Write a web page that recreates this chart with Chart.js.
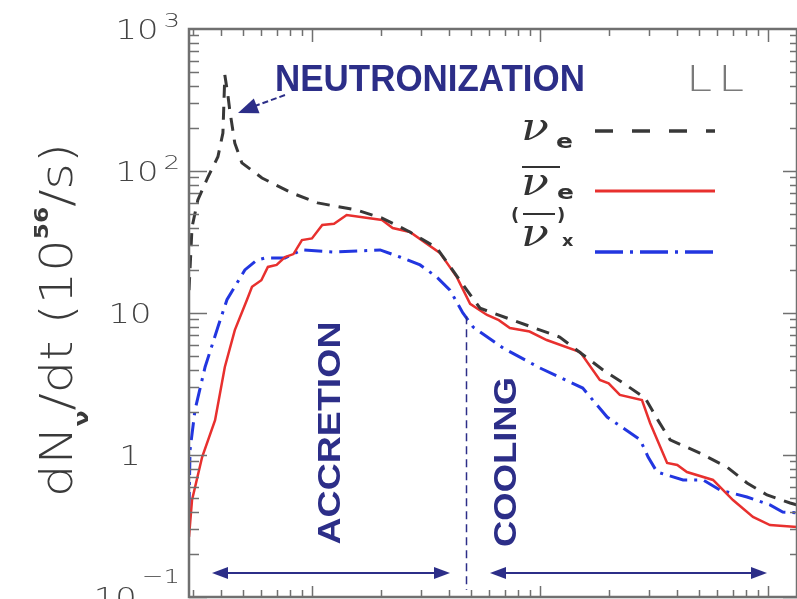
<!DOCTYPE html>
<html>
<head>
<meta charset="utf-8">
<script src="https://cdn.jsdelivr.net/npm/chart.js@4.4.1/dist/chart.umd.min.js"></script>
<style>
  html, body { margin: 0; padding: 0; background: #fff; }
  canvas { display: block; }
</style>
</head>
<body>
<canvas id="lum" width="797" height="599"></canvas>
<script>
// time after bounce (s) and dN/dt (10^56 /s)
const nueT = [0.0289, 0.0298, 0.0316, 0.0350, 0.0387, 0.0407, 0.0415, 0.0428, 0.0436, 0.0459, 0.0493, 0.0604, 0.0817,
  0.106, 0.157, 0.203, 0.269, 0.353, 0.478, 0.546, 0.716, 1.22, 1.89, 2.31, 2.89, 3.29, 3.72, 5.03, 6.61, 8.09, 9.90, 12.5, 13.4];
const nueY = [14.5, 40.3, 62.5, 90.7, 126, 185, 474, 343, 269, 157, 114, 89.3, 70.0,
  59.6, 53.1, 46.6, 37.2, 28.7, 14.5, 10.8, 9.22, 6.77, 3.97, 3.22, 2.52, 1.76, 1.28, 1.03, 0.823, 0.635, 0.523, 0.459, 0.445];

const nuebT = [0.0289, 0.0298, 0.0330, 0.0376, 0.0415, 0.0459, 0.0519, 0.0546, 0.0600, 0.0641, 0.0700, 0.0762, 0.0830, 0.0904,
  0.100, 0.111, 0.125, 0.142, 0.203, 0.226, 0.269, 0.364, 0.432, 0.494, 0.586, 0.660, 0.738, 0.900, 1.07, 1.50, 1.83, 2.00,
  2.24, 2.80, 3.04, 3.61, 4.00, 4.41, 5.74, 7.02, 8.59, 10.2, 13.4];
const nuebY = [0.265, 0.482, 0.968, 1.76, 4.17, 7.58, 12.4, 15.3, 17.0, 21.1, 21.8, 24.8, 26.0, 32.6,
  33.5, 41.7, 42.5, 49.0, 45.2, 39.7, 37.2, 26.5, 17.9, 11.6, 9.68, 8.9, 7.83, 7.4, 6.45, 5.31, 3.38, 3.2,
  2.65, 2.44, 1.68, 0.879, 0.85, 0.759, 0.667, 0.482, 0.366, 0.321, 0.311];

const nuxT = [0.0289, 0.0292, 0.0307, 0.0340, 0.0387, 0.0424, 0.0508, 0.0574, 0.0622, 0.0762, 0.0904, 0.124, 0.199,
  0.243, 0.298, 0.353, 0.403, 0.459, 0.509, 0.689, 1.00, 1.54, 1.97, 2.75, 2.98, 3.26, 4.24, 5.19, 6.16, 8.09, 10.2, 11.6, 13.4];
const nuxY = [0.41, 1.08, 2.07, 4.17, 7.97, 12.4, 20.1, 23.6, 24.4, 24.4, 27.8, 26.9, 27.8,
  24.8, 21.8, 17.9, 14.5, 10.0, 7.97, 5.67, 4.10, 2.96, 1.85, 1.28, 0.968, 0.759, 0.667, 0.667, 0.567, 0.506, 0.445, 0.397, 0.391];

// y axis tick labels (base + exponent)
const yTickValues = [0.1, 1, 10, 100, 1000];
const yTickBase = ['10', '1', '10', '10', '10'];
const yTickExp = ['\u22121', '', '', '2', '3'];
const xDecades = [0.01, 0.1, 1, 10];
const phaseSplit = 0.474; // end of accretion (s)

const NAVY = '#2c2e88';
const AXIS = '#707070';
const THIN = "200 26px 'DejaVu Sans'";

function pts(ts, ys) {
    return ts.map((t, i) => ({ x: t, y: ys[i] }));
}

// draw text stretched horizontally by sx
function sText(ctx, s, x, y, font, color, sx, align) {
    ctx.save();
    ctx.font = font;
    ctx.fillStyle = color;
    const w = ctx.measureText(s).width * sx;
    const x0 = align === 'right' ? x - w : align === 'center' ? x - w / 2 : x;
    ctx.translate(x0, y);
    ctx.scale(sx, 1);
    ctx.textAlign = 'left';
    ctx.textBaseline = 'alphabetic';
    ctx.fillText(s, 0, 0);
    ctx.restore();
    return w;
}

// text fitted to a length, centred on (cx, cy), optionally rotated
function fitText(ctx, s, cx, cy, font, color, len, capH, rotate) {
    ctx.save();
    ctx.font = font;
    ctx.fillStyle = color;
    const w = ctx.measureText(s).width;
    ctx.translate(cx, cy);
    if (rotate) ctx.rotate(-Math.PI / 2);
    ctx.scale(len / w, 1);
    ctx.textAlign = 'center';
    ctx.textBaseline = 'alphabetic';
    ctx.fillText(s, 0, capH / 2);
    ctx.restore();
}

function arrowHead(ctx, tipX, tipY, fromX, fromY, len, half) {
    const dx = tipX - fromX, dy = tipY - fromY;
    const d = Math.hypot(dx, dy);
    const ux = dx / d, uy = dy / d;
    const bx = tipX - ux * len, by = tipY - uy * len;
    ctx.beginPath();
    ctx.moveTo(tipX, tipY);
    ctx.lineTo(bx - uy * half, by + ux * half);
    ctx.lineTo(bx + uy * half, by - ux * half);
    ctx.closePath();
    ctx.fill();
}

const framePlugin = {
    id: 'frame',
    afterDraw(chart) {
        const ctx = chart.ctx;
        const a = chart.chartArea;
        const xs = chart.scales.x, ys = chart.scales.y;
        ctx.save();

        // box
        ctx.strokeStyle = AXIS;
        ctx.lineWidth = 2.5;
        ctx.strokeRect(a.left, a.top, a.right - a.left, a.bottom - a.top);

        // inward ticks
        ctx.lineWidth = 1.5;
        ctx.beginPath();
        for (let e = -1; e < 3; e++) {
            const d = Math.pow(10, e);
            for (let k = 1; k <= 9; k++) {
                const py = Math.round(ys.getPixelForValue(k * d)) + 0.5;
                const major = k === 1;
                ctx.moveTo(a.left, py); ctx.lineTo(a.left + (major ? 18 : 10), py);
                ctx.moveTo(a.right, py); ctx.lineTo(a.right - (major ? 14 : 7), py);
            }
        }
        xDecades.forEach(d => {
            for (let k = 1; k <= 9; k++) {
                const v = k * d;
                if (v < xs.min || v > xs.max) continue;
                const px = Math.round(xs.getPixelForValue(v)) + 0.5;
                const major = k === 1;
                ctx.moveTo(px, a.top); ctx.lineTo(px, a.top + (major ? 13 : 7));
                ctx.moveTo(px, a.bottom); ctx.lineTo(px, a.bottom - (major ? 11 : 7));
            }
        });
        ctx.stroke();

        // y tick labels
        yTickValues.forEach((v, i) => {
            const py = ys.getPixelForValue(v);
            const base = yTickBase[i], ex = yTickExp[i];
            if (!ex) {
                sText(ctx, base, 130, py + 9.5, THIN, '#444', 1.3, 'center');
                return;
            }
            ctx.font = "200 20px 'DejaVu Sans'";
            const ew = ctx.measureText(ex).width * 1.3;
            ctx.font = THIN;
            const bw = ctx.measureText(base).width * 1.3;
            const x0 = 180 - ew - 5 - bw;
            sText(ctx, base, x0, py + 9.5, THIN, '#444', 1.3, 'left');
            sText(ctx, ex, x0 + bw + 5, py - (ex[0] === '\u2212' ? 14 : 2), "200 20px 'DejaVu Sans'", '#444', 1.3, 'left');
        });

        // y axis title: dN_nu/dt (10^56/s)
        const runs = [
            { s: 'dN', f: "200 44px 'DejaVu Sans'", dy: 0 },
            { s: '\u03bd', f: "bold 20px 'DejaVu Sans'", dy: 16 },
            { s: '/dt (10', f: "200 44px 'DejaVu Sans'", dy: 0 },
            { s: '56', f: "bold 20px 'DejaVu Sans'", dy: -24 },
            { s: '/s)', f: "200 44px 'DejaVu Sans'", dy: 0 }
        ];
        let total = 0;
        runs.forEach(r => { ctx.font = r.f; r.w = ctx.measureText(r.s).width; total += r.w; });
        ctx.save();
        ctx.translate(72, 320);
        ctx.rotate(-Math.PI / 2);
        ctx.scale(354 / total, 1);
        ctx.fillStyle = '#3a3a3a';
        let cx = -total / 2;
        runs.forEach(r => { ctx.font = r.f; ctx.fillText(r.s, cx, r.dy); cx += r.w; });
        ctx.restore();

        // phase labels
        fitText(ctx, 'NEUTRONIZATION', 430, 78, "bold 36px 'Liberation Sans'", NAVY, 310, 26, false);
        fitText(ctx, 'ACCRETION', 328, 433, "bold 32px 'Liberation Sans'", NAVY, 223, 23, true);
        fitText(ctx, 'COOLING', 504, 462, "bold 32px 'Liberation Sans'", NAVY, 170, 23, true);
        sText(ctx, 'L', 686, 91, "200 36px 'DejaVu Sans'", '#7a7a7a', 1.3, 'left');
        sText(ctx, 'L', 718, 91, "200 36px 'DejaVu Sans'", '#7a7a7a', 1.3, 'left');

        // neutronization arrow
        ctx.strokeStyle = NAVY;
        ctx.fillStyle = NAVY;
        ctx.lineWidth = 2;
        ctx.setLineDash([6, 3]);
        ctx.beginPath();
        ctx.moveTo(285, 95); ctx.lineTo(255, 106);
        ctx.stroke();
        ctx.setLineDash([]);
        arrowHead(ctx, 238, 113, 285, 95, 20, 8);

        // accretion / cooling arrows
        const yA = 573;
        [[212, 450], [490, 767]].forEach(([x1, x2]) => {
            ctx.beginPath();
            ctx.moveTo(x1 + 8, yA); ctx.lineTo(x2 - 8, yA);
            ctx.stroke();
            arrowHead(ctx, x1, yA, x2, yA, 16, 6);
            arrowHead(ctx, x2, yA, x1, yA, 16, 6);
        });

        // boundary line
        const xb = Math.round(xs.getPixelForValue(phaseSplit)) + 0.5;
        ctx.lineWidth = 1.5;
        ctx.setLineDash([8, 5]);
        ctx.beginPath();
        ctx.moveTo(xb, ys.getPixelForValue(9.5)); ctx.lineTo(xb, 590);
        ctx.stroke();
        ctx.setLineDash([]);

        // legend
        const ds = chart.data.datasets;
        const rows = [
            { y: 131, d: ds[0], dash: [18, 19], w: 3.5 },
            { y: 191, d: ds[1], dash: [], w: 3 },
            { y: 252, d: ds[2], dash: [28, 7, 3, 7], w: 3.5 }
        ];
        rows.forEach(r => {
            ctx.strokeStyle = r.d.borderColor;
            ctx.lineWidth = r.w;
            ctx.setLineDash(r.dash);
            ctx.beginPath();
            ctx.moveTo(595, r.y); ctx.lineTo(715, r.y);
            ctx.stroke();
        });
        ctx.setLineDash([]);
        const nuFont = "italic 40px 'DejaVu Serif'";
        const subFont = "bold 20px 'DejaVu Sans'";
        sText(ctx, '\u03bd', 521, 140, nuFont, '#333', 1.15, 'left');
        sText(ctx, 'e', 556, 148, subFont, '#333', 1.25, 'left');
        sText(ctx, '\u03bd', 521, 195, nuFont, '#333', 1.15, 'left');
        sText(ctx, 'e', 557, 199, subFont, '#333', 1.25, 'left');
        ctx.strokeStyle = '#333';
        ctx.lineWidth = 2;
        ctx.beginPath();
        ctx.moveTo(522, 167); ctx.lineTo(560, 167);
        ctx.stroke();
        sText(ctx, '(', 511, 221, "bold 18px 'DejaVu Sans'", '#333', 1, 'left');
        sText(ctx, ')', 557, 221, "bold 18px 'DejaVu Sans'", '#333', 1, 'left');
        ctx.beginPath();
        ctx.moveTo(523, 214); ctx.lineTo(555, 214);
        ctx.stroke();
        sText(ctx, '\u03bd', 521, 246, nuFont, '#333', 1.15, 'left');
        sText(ctx, 'x', 562, 246, "bold 16px 'DejaVu Sans'", '#333', 1.1, 'left');

        ctx.restore();
    }
};

new Chart(document.getElementById('lum'), {
    type: 'line',
    data: {
        datasets: [
            {
                label: 'nu_e',
                data: pts(nueT, nueY),
                borderColor: '#383838',
                borderWidth: 3,
                borderDash: [13, 9],
                pointRadius: 0,
                fill: false,
                tension: 0
            },
            {
                label: 'anti nu_e',
                data: pts(nuebT, nuebY),
                borderColor: '#e8302e',
                borderWidth: 2.5,
                pointRadius: 0,
                fill: false,
                tension: 0
            },
            {
                label: 'nu_x',
                data: pts(nuxT, nuxY),
                borderColor: '#2236e0',
                borderWidth: 3,
                borderDash: [18, 7, 3, 7],
                pointRadius: 0,
                fill: false,
                tension: 0
            }
        ]
    },
    options: {
        responsive: false,
        animation: false,
        devicePixelRatio: 1,
        layout: { padding: { left: 189, top: 29, right: 0, bottom: 2 } },
        scales: {
            x: { type: 'logarithmic', min: 0.0289, max: 13.4, display: false, bounds: 'data' },
            y: { type: 'logarithmic', min: 0.1, max: 1000, display: false, bounds: 'data' }
        },
        plugins: {
            legend: { display: false },
            tooltip: { enabled: false }
        }
    },
    plugins: [framePlugin]
});
</script>
</body>
</html>
